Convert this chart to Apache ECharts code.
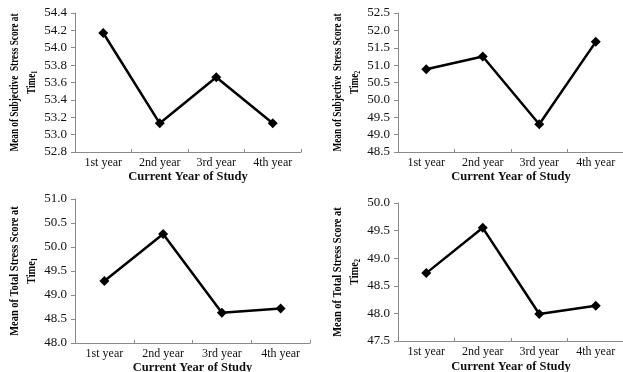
<!DOCTYPE html>
<html><head><meta charset="utf-8">
<script src="https://cdn.jsdelivr.net/npm/echarts@6/dist/echarts.min.js"></script>
<style>html,body{margin:0;padding:0;background:#fff}#c{width:623px;height:372px}</style>
</head><body><div id="c"></div>
<script>
const categories = ['1st year', '2nd year', '3rd year', '4th year'];
const subjectiveT1 = [54.17, 53.13, 53.66, 53.13];
const subjectiveT2 = [50.88, 51.25, 49.30, 51.67];
const totalT1 = [49.29, 50.27, 48.63, 48.72];
const totalT2 = [48.73, 49.55, 47.99, 48.14];
const yTicks1 = {min: 52.8, max: 54.4, interval: 0.2};
const yTicks2 = {min: 48.5, max: 52.5, interval: 0.5};
const yTicks3 = {min: 48.0, max: 51.0, interval: 0.5};
const yTicks4 = {min: 47.5, max: 50.0, interval: 0.5};
const xTitle = 'Current Year of Study';
const yTitles = [
  ['Mean of Subjective  Stress Score at', '1'],
  ['Mean of Subjective  Stress Score at', '2'],
  ['Mean of Total Stress Score at', '1'],
  ['Mean of Total Stress Score at', '2']
];

const font = 'Liberation Serif';
const axisColor = '#8a8a8a';
const grids = [
  {left: 75, top: 13, width: 226, height: 139},
  {left: 398, top: 13, width: 226, height: 139},
  {left: 75, top: 199, width: 235, height: 144},
  {left: 398, top: 203, width: 226, height: 138}
];
const titleScale = [0.71, 0.71, 0.8, 0.8];
const nameGaps = [17, 17, 18.5, 19.5];
const ticks = [yTicks1, yTicks2, yTicks3, yTicks4];
const data = [subjectiveT1, subjectiveT2, totalT1, totalT2];

const chart = echarts.init(document.getElementById('c'));
const xAxis = [], yAxis = [], series = [], graphic = [];
grids.forEach((g, i) => {
  g.containLabel = false;
  g.outerBoundsMode = 'none';
  xAxis.push({
    type: 'category', gridIndex: i, data: categories, boundaryGap: true,
    axisLine: {lineStyle: {color: axisColor, width: 1}},
    axisTick: {show: true, inside: true, length: 3, lineStyle: {color: axisColor}},
    axisLabel: {color: '#111', fontFamily: font, fontSize: 12, margin: 5},
    name: xTitle, nameLocation: 'middle', nameGap: nameGaps[i],
    nameTextStyle: {fontFamily: font, fontWeight: 'bold', fontSize: 12.5, color: '#111'}
  });
  yAxis.push({
    type: 'value', gridIndex: i, min: ticks[i].min, max: ticks[i].max, interval: ticks[i].interval,
    splitLine: {show: false},
    axisLine: {show: true, lineStyle: {color: axisColor, width: 1}},
    axisTick: {show: true, length: 4, lineStyle: {color: axisColor}},
    axisLabel: {color: '#111', fontFamily: font, fontSize: 13, margin: 8,
      formatter: v => v.toFixed(1)}
  });
  series.push({
    type: 'line', xAxisIndex: i, yAxisIndex: i, data: data[i],
    symbol: 'diamond', symbolSize: 10,
    lineStyle: {color: '#000', width: 2.5},
    itemStyle: {color: '#000'}
  });
  const cx = g.left - 52;
  const cy = g.top + g.height / 2;
  graphic.push({
    type: 'text', x: cx, y: cy, rotation: Math.PI / 2, scaleX: titleScale[i],
    style: {
      text: '{a|' + yTitles[i][0] + '}\n{a|Time}{s|' + yTitles[i][1] + '}',
      align: 'center', verticalAlign: 'middle', fill: '#000',
      rich: {
        a: {fontFamily: font, fontWeight: 'bold', fontSize: 13, lineHeight: 17, fill: '#000'},
        s: {fontFamily: font, fontWeight: 'bold', fontSize: 8, lineHeight: 17, padding: [7, 0, 0, 0], fill: '#000'}
      }
    }
  });
});

chart.setOption({
  animation: false,
  grid: grids,
  xAxis, yAxis, series, graphic
});
</script></body></html>
